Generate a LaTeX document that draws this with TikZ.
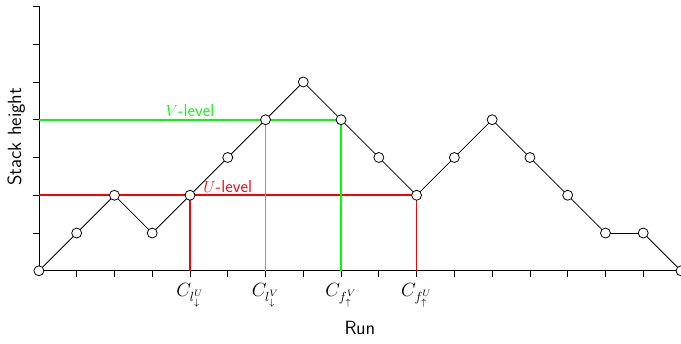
\documentclass[tikz,border=0pt]{standalone}
\usepackage{amsmath}
\usepackage{tikz}
\usetikzlibrary{calc,arrows.meta}
\definecolor{lvlu}{HTML}{FF0000}
\definecolor{lvlv}{HTML}{00FF00}

\tikzset{
    stackpt/.style={circle, draw=black, fill=white, inner sep=0pt, minimum size=7.5pt},
    lvlline/.style={line width=1.3pt},
    lvllabel/.style={font=\fontsize{13}{15}\selectfont\sffamily, inner sep=2pt},
    runlabel/.style={font=\Large, anchor=north, inner sep=0pt},
}

\begin{document}
\begin{tikzpicture}[x=1cm, y=1cm, line width=0.6pt]
    \useasboundingbox (-1.03, -1.93) rectangle (17.0, 7.17);

    % Axes
    \draw (0, 0) -- (17, 0);
    \draw (0, 0) -- (0, 7);
    \foreach \x in {1,...,17} {
        \draw (\x, 0) -- (\x, -0.16);
    }
    \foreach \y in {1,...,7} {
        \draw (0, \y) -- (-0.16, \y);
    }

    % Levels
    \draw[lvlline, draw=lvlu] (0, 2) -- (10, 2);
    \draw[lvlline, draw=lvlu] (4, 2) -- (4, 0);
    \draw[lvlline, draw=lvlu] (10, 2) -- (10, 0);
    \draw[lvlline, draw=lvlv] (0, 4) -- (8, 4);
    \draw[lvlline, draw=lvlv] (6, 4) -- (6, 0);
    \draw[lvlline, draw=lvlv] (8, 4) -- (8, 0);

    \node[lvllabel, above, text=lvlv] (vlevel) at (4, 4) {$V$-level};
    \node[lvllabel, above, text=lvlu] (ulevel) at (5, 2) {$U$-level};

    % Stack height along the run
    \foreach \i/\h in {0/0, 1/1, 2/2, 3/1, 4/2, 5/3, 6/4, 7/5, 8/4,
                       9/3, 10/2, 11/3, 12/4, 13/3, 14/2, 15/1, 16/1, 17/0} {
        \coordinate (c\i) at (\i, \h);
    }
    \foreach \i [evaluate=\i as \j using int(\i+1)] in {0,...,16} {
        \draw (c\i) -- (c\j);
    }
    \foreach \i in {0,...,17} {
        \node[stackpt] (p\i) at (c\i) {};
    }

    % Axis labels
    \node[runlabel] (clu) at (4, -0.33) {$C_{l^{U}_{\downarrow}}$};
    \node[runlabel] (clv) at (6, -0.33) {$C_{l^{V}_{\downarrow}}$};
    \node[runlabel] (cfv) at (8, -0.33) {$C_{f^{V}_{\uparrow}}$};
    \node[runlabel] (cfu) at (10, -0.33) {$C_{f^{U}_{\uparrow}}$};
    \node[font=\Large\sffamily] (run) at (8.5, -1.5) {Run};
    \node[font=\Large\sffamily, rotate=90] (height) at (-0.6, 3.55) {Stack height};
\end{tikzpicture}
\end{document}
